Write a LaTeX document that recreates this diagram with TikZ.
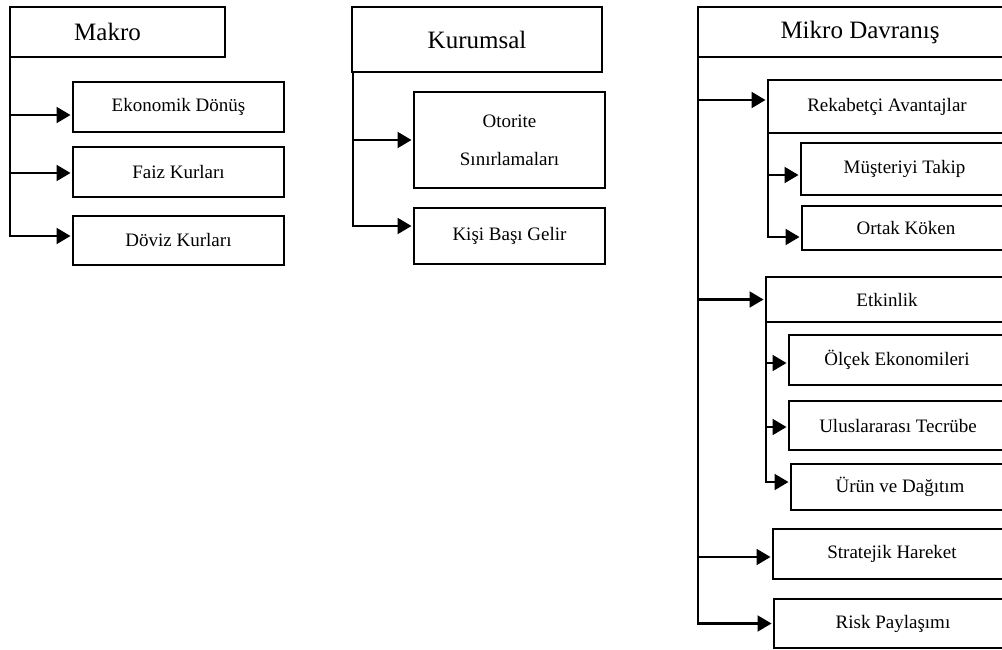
\documentclass[tikz,border=0pt]{standalone}
\usepackage{fontspec}
\setmainfont{Liberation Serif}
\usetikzlibrary{arrows.meta,calc}
\tikzset{
  box/.style={draw, line width=1.4pt, inner sep=0pt, outer sep=0pt, align=center,
    font=\fontsize{19}{38}\selectfont},
  title/.style={box, font=\fontsize{25}{28}\selectfont},
  trunk/.style={line width=2pt, line cap=rect},
  arr/.style={line width=2.1pt, -{Triangle[length=14pt,width=16pt]}, shorten >=2.5pt},
}
\newcommand\branch[3]{%
  \coordinate (bt) at ($(#2.west)+(0,#3)$);
  \draw[arr] (#1 |- bt) -- (bt);}
\begin{document}
\begin{tikzpicture}[x=1pt,y=-1pt]
\useasboundingbox (0,0) rectangle (1002,650);
\clip (0,0) rectangle (1002,650);
% Makro
\node[title, minimum width=215pt, minimum height=50pt] (makro) at (117.5,32) {Makro\hspace*{20pt}};
\node[box, minimum width=211pt, minimum height=50pt] (ekon) at (178.5,107) {Ekonomik Dönüş};
\node[box, minimum width=211pt, minimum height=50pt] (faiz) at (178.5,172) {Faiz Kurları};
\node[box, minimum width=211pt, minimum height=49pt] (dov) at (178.5,240.5) {Döviz Kurları};
\coordinate (mk) at (makro.south west);
\coordinate (mkend) at ($(dov.west)+(0,-4.5)$);
\draw[trunk] (mk) -- (mk |- mkend);
\branch{mk}{ekon}{8}
\branch{mk}{faiz}{1}
\branch{mk}{dov}{-4.5}
% Kurumsal
\node[title, minimum width=250pt, minimum height=65pt] (kur) at (477,39.5) {Kurumsal};
\node[box, minimum width=191pt, minimum height=96pt] (oto) at (509.5,140) {Otorite\\Sınırlamaları};
\node[box, minimum width=191pt, minimum height=56pt] (kisi) at (509.5,236) {Kişi Başı Gelir};
\coordinate (ku) at ($(kur.south west)+(1,0)$);
\coordinate (kuend) at ($(kisi.west)+(0,-10)$);
\draw[trunk] (ku) -- (ku |- kuend);
\branch{ku}{oto}{0}
\branch{ku}{kisi}{-10}
% Mikro
\node[title, minimum width=324pt, minimum height=50pt] (mikro) at (860,32) {Mikro Davranış};
\node[box, minimum width=238pt, minimum height=53pt] (rek) at (887,106.5) {Rekabetçi Avantajlar};
\node[box, minimum width=207pt, minimum height=52pt] (mus) at (904.5,169) {Müşteriyi Takip};
\node[box, minimum width=208pt, minimum height=44pt] (ort) at (906,228) {Ortak Köken};
\node[box, minimum width=242pt, minimum height=45pt] (etk) at (887,299.5) {Etkinlik};
\node[box, minimum width=216pt, minimum height=50pt] (olc) at (897,360) {Ölçek Ekonomileri};
\node[box, minimum width=218pt, minimum height=49pt] (ulu) at (898,425.5) {Uluslararası Tecrübe};
\node[box, minimum width=218pt, minimum height=46pt] (urun) at (900,487) {Ürün ve Dağıtım};
\node[box, minimum width=238pt, minimum height=50pt] (str) at (892,554) {Stratejik Hareket};
\node[box, minimum width=238pt, minimum height=49pt] (risk) at (893,623.5) {Risk Paylaşımı};
\coordinate (mi) at (mikro.south west);
\coordinate (miend) at (risk.west);
\draw[trunk] (mi) -- (mi |- miend);
\branch{mi}{rek}{-6.5}
\branch{mi}{etk}{0}
\branch{mi}{str}{3}
\branch{mi}{risk}{0}
\coordinate (re) at (rek.south west);
\coordinate (reend) at ($(ort.west)+(0,9)$);
\draw[trunk] (re) -- (re |- reend);
\branch{re}{mus}{6}
\branch{re}{ort}{9}
\coordinate (et) at (etk.south west);
\coordinate (etend) at ($(urun.west)+(0,-5)$);
\draw[trunk] (et) -- (et |- etend);
\branch{et}{olc}{3}
\branch{et}{ulu}{1.5}
\branch{et}{urun}{-5}
\end{tikzpicture}
\end{document}
